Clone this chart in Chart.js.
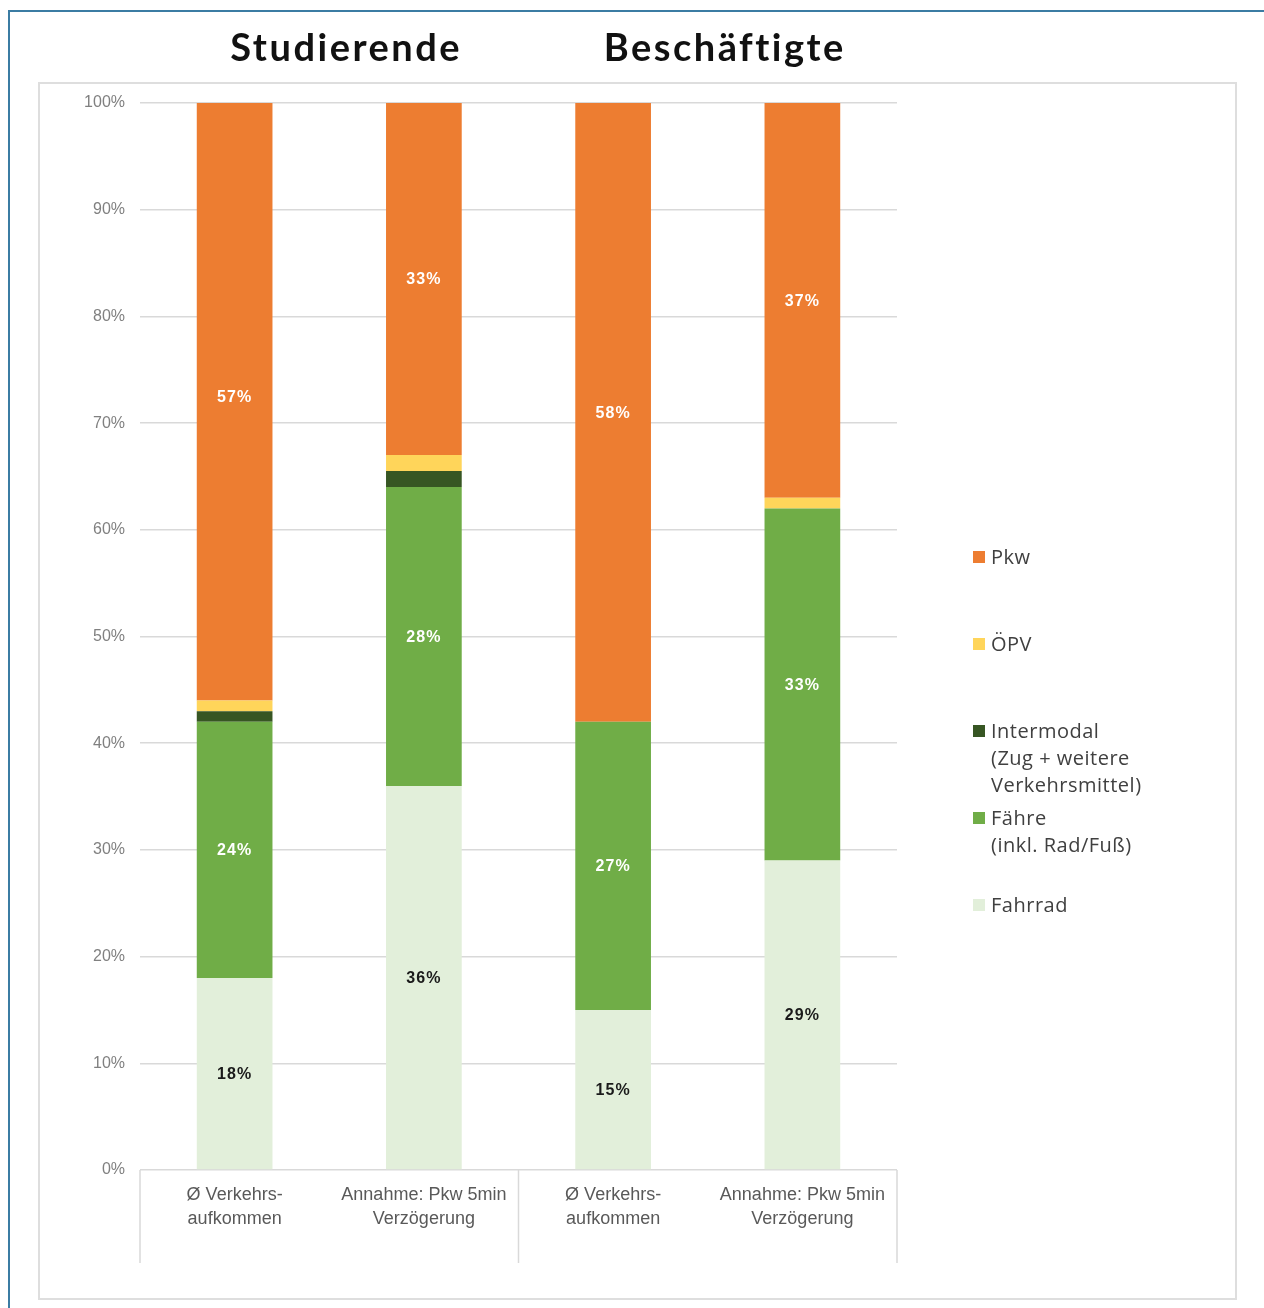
<!DOCTYPE html>
<html>
<head>
<meta charset="utf-8">
<script src="https://cdn.jsdelivr.net/npm/chart.js@4.4.1/dist/chart.umd.min.js"></script>
<style>
  body { margin: 0; background: #fff; }
  #wrap { position: relative; width: 1264px; height: 1308px; overflow: hidden; }
  #outer { position: absolute; left: 8px; top: 10px; width: 1260px; height: 1310px;
           border-left: 2px solid #3b7ca3; border-top: 2px solid #3b7ca3; border-right: 2px solid #a9cbe0; }
  #inner { position: absolute; left: 38px; top: 82px; width: 1195px; height: 1214px; border: 2px solid #dedede; }
  canvas { position: absolute; left: 0; top: 0; }
  #legend { position: absolute; left: 973px; top: 0; font-family: 'Open Sans', sans-serif; font-size: 20px;
            letter-spacing: 0.5px; color: #404040; }
  .item { position: absolute; left: 0; white-space: nowrap; line-height: 27px; }
  .sw { position: absolute; left: 0; top: 8px; width: 12px; height: 12px; }
  .txt { position: absolute; left: 18px; top: 0; }
</style>
</head>
<body>
<div id="wrap">
  <div id="outer"></div>
  <div id="inner"></div>
  <canvas id="chart" width="1264" height="1308"></canvas>
  <div id="legend"></div>
</div>
<script>
// data ==========
var categories = [
  ["Ø Verkehrs-", "aufkommen"],
  ["Annahme: Pkw 5min", "Verzögerung"],
  ["Ø Verkehrs-", "aufkommen"],
  ["Annahme: Pkw 5min", "Verzögerung"]
];
var groups = ["Studierende", "Beschäftigte"];

var fahrrad    = [18, 36, 15, 29];
var faehre     = [24, 28, 27, 33];
var intermodal = [1, 1.5, 0, 0];
var oepv       = [1, 1.5, 0, 1];
var pkw        = [57, 33, 58, 37];

var yTicks = [0, 10, 20, 30, 40, 50, 60, 70, 80, 90, 100];

var legendNames = {
  pkw: ["Pkw"],
  oepv: ["ÖPV"],
  intermodal: ["Intermodal", "(Zug + weitere", "Verkehrsmittel)"],
  faehre: ["Fähre", "(inkl. Rad/Fuß)"],
  fahrrad: ["Fahrrad"]
};

// plugin: labels, separators, group titles
var extras = {
  id: 'extras',
  afterDatasetsDraw: function(chart) {
    var ctx = chart.ctx;
    ctx.save();
    ctx.font = 'bold 16px "Liberation Sans", Arial, sans-serif';
    ctx.letterSpacing = '1px';
    ctx.textAlign = 'center';
    ctx.textBaseline = 'middle';
    chart.data.datasets.forEach(function(ds, i) {
      if (!ds.showLabel) return;
      chart.getDatasetMeta(i).data.forEach(function(el, j) {
        var v = ds.data[j];
        if (!v) return;
        ctx.fillStyle = ds.labelColor;
        ctx.fillText(v + '%', el.x, (el.y + el.base) / 2 + 1);
      });
    });
    ctx.restore();
  },
  afterDraw: function(chart) {
    var ctx = chart.ctx;
    var xs = chart.scales.x;
    var mid = (xs.getPixelForTick(1) + xs.getPixelForTick(2)) / 2;
    ctx.save();
    ctx.strokeStyle = '#d9d9d9';
    ctx.lineWidth = 1.5;
    [xs.left, mid, xs.right].forEach(function(x) {
      ctx.beginPath();
      ctx.moveTo(x, xs.top);
      ctx.lineTo(x, xs.top + 93);
      ctx.stroke();
    });
    ctx.font = 'bold 38px Lato, sans-serif';
    ctx.letterSpacing = '2.5px';
    ctx.fillStyle = '#111';
    ctx.textAlign = 'center';
    ctx.textBaseline = 'middle';
    groups.forEach(function(g, k) {
      var c = (xs.getPixelForTick(2 * k) + xs.getPixelForTick(2 * k + 1)) / 2;
      ctx.fillText(g, c + 17, 49);
    });
    ctx.restore();
  }
};

var datasets = [
  { key: 'fahrrad', label: 'Fahrrad', data: fahrrad, backgroundColor: '#e2efda', showLabel: true, labelColor: '#1a1a1a' },
  { key: 'faehre', label: 'Fähre', data: faehre, backgroundColor: '#70ad47', showLabel: true, labelColor: '#ffffff' },
  { key: 'intermodal', label: 'Intermodal', data: intermodal, backgroundColor: '#375623' },
  { key: 'oepv', label: 'ÖPV', data: oepv, backgroundColor: '#ffd55a' },
  { key: 'pkw', label: 'Pkw', data: pkw, backgroundColor: '#ed7d31', showLabel: true, labelColor: '#ffffff' }
];

var chart = new Chart(document.getElementById('chart'), {
  type: 'bar',
  data: { labels: categories, datasets: datasets },
  options: {
    responsive: false,
    animation: false,
    layout: { padding: { left: 38, top: 103, right: 367, bottom: 10 } },
    datasets: { bar: { categoryPercentage: 1, barPercentage: 0.4, borderWidth: 0 } },
    plugins: { legend: { display: false }, tooltip: { enabled: false } },
    scales: {
      x: {
        stacked: true,
        grid: { display: false },
        border: { display: false },
        afterFit: function(s) { s.height = 128; },
        ticks: {
          autoSkip: false, maxRotation: 0, padding: 6,
          color: '#595959',
          font: { family: '"Liberation Sans", Arial, sans-serif', size: 18, lineHeight: 1.28 }
        }
      },
      y: {
        stacked: true,
        min: 0, max: 100,
        afterFit: function(s) { s.width = 102; },
        afterBuildTicks: function(s) { s.ticks = yTicks.map(function(v) { return { value: v }; }); },
        grid: { color: '#d9d9d9', lineWidth: 1.5, drawTicks: false },
        border: { display: false },
        ticks: {
          padding: 15,
          color: '#808080',
          font: { family: '"Liberation Sans", Arial, sans-serif', size: 16 },
          callback: function(v) { return v + '%'; }
        }
      }
    }
  },
  plugins: [extras]
});

// legend (top to bottom: reversed stack order)
var legend = document.getElementById('legend');
datasets.slice().reverse().forEach(function(ds, i) {
  var item = document.createElement('div');
  item.className = 'item';
  item.style.top = (543 + i * 87) + 'px';
  item.innerHTML = '<span class="sw" style="background:' + ds.backgroundColor + '"></span>' +
    '<div class="txt">' + legendNames[ds.key].join('<br>') + '</div>';
  legend.appendChild(item);
});
</script>
</body>
</html>
